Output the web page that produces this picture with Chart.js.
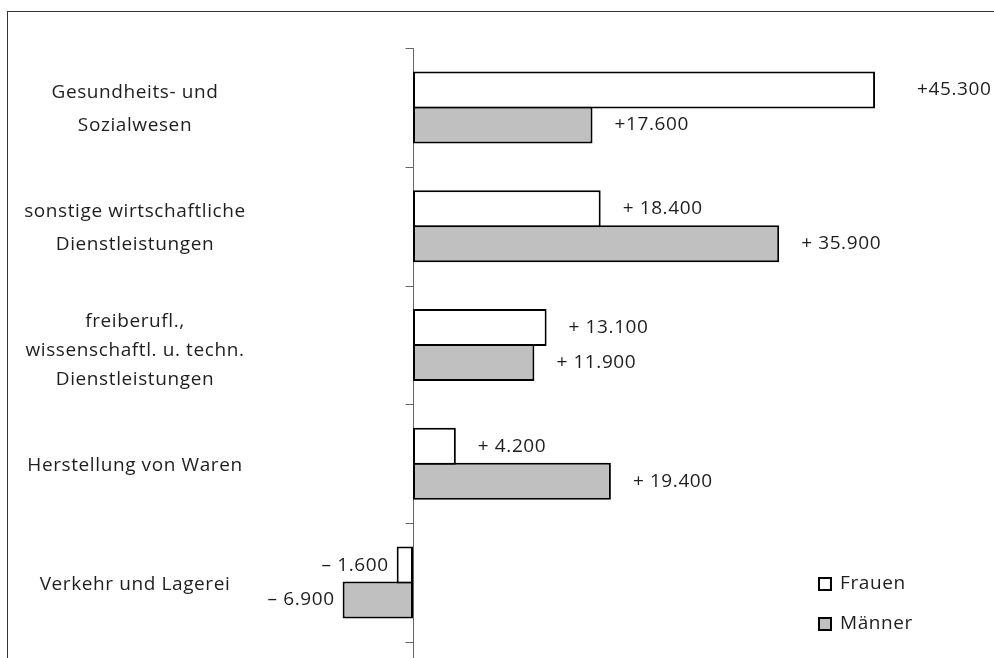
<!DOCTYPE html>
<html>
<head>
<meta charset="utf-8">
<script src="https://cdn.jsdelivr.net/npm/chart.js@4/dist/chart.umd.min.js"></script>
<style>
  html, body { margin: 0; padding: 0; background: #fff; overflow: hidden; }
  #wrap { position: relative; width: 994px; height: 658px; }
  #frame { position: absolute; left: 7px; top: 11px; width: 1100px; height: 800px;
           border: 1px solid #333; box-sizing: border-box; }
  canvas { position: absolute; left: 0; top: 0; }
</style>
</head>
<body>
<div id="wrap">
  <div id="frame"></div>
  <canvas id="c" width="994" height="658"></canvas>
</div>
<script>
// Sectors (multi-line labels as arrays)
const categories = [
  ['Gesundheits- und', 'Sozialwesen'],
  ['sonstige wirtschaftliche', 'Dienstleistungen'],
  ['freiberufl.,', 'wissenschaftl. u. techn.', 'Dienstleistungen'],
  'Herstellung von Waren',
  'Verkehr und Lagerei'
];
const seriesNames = ['Frauen', 'Männer'];
const frauen  = [45300, 18400, 13100, 4200, -1600];
const maenner = [17600, 35900, 11900, 19400, -6900];

// Labels written without a blank after the sign (dataset index -> bar indices)
const compactSign = [[0], [0]];

const FONT = '"Open Sans"';
const FONT_SIZE = 19;
const SPACING = '0.6px';
const TEXT = '#1e1e1e';

function formatValue(v, tight) {
  const sign = v < 0 ? '\u2013' : '+';
  const num = Math.abs(v).toLocaleString('de-DE');
  return sign + (tight ? '' : ' ') + num;
}

const overlay = {
  id: 'overlay',
  beforeDraw(chart) {
    chart.ctx.letterSpacing = SPACING;
  },
  beforeDatasetsDraw(chart) {
    const { ctx, chartArea, scales: { x, y } } = chart;
    const x0 = Math.round(x.getPixelForValue(0)) + 0.5;
    ctx.save();
    // zero line with category boundary ticks
    ctx.strokeStyle = '#666';
    ctx.lineWidth = 1;
    ctx.beginPath();
    ctx.moveTo(x0, chartArea.top);
    ctx.lineTo(x0, chart.height);
    for (let i = 0; i <= categories.length; i++) {
      const py = Math.round(y.getPixelForValue(i - 0.5)) + 0.5;
      ctx.moveTo(x0 - 8, py);
      ctx.lineTo(x0, py);
    }
    ctx.stroke();

    // category labels, centred left of the plot
    ctx.font = FONT_SIZE + 'px ' + FONT;
    ctx.fillStyle = TEXT;
    ctx.textAlign = 'center';
    ctx.textBaseline = 'middle';
    categories.forEach((lab, i) => {
      const lines = Array.isArray(lab) ? lab : [lab];
      const lh = lines.length === 3 ? 29 : 33;
      const cy = y.getPixelForValue(i) + (lines.length === 3 ? 6 : 2);
      lines.forEach((t, k) => {
        ctx.fillText(t, 135, cy + (k - (lines.length - 1) / 2) * lh);
      });
    });
    ctx.restore();
  },
  afterDatasetsDraw(chart) {
    const { ctx } = chart;
    ctx.save();
    ctx.font = FONT_SIZE + 'px ' + FONT;
    ctx.fillStyle = TEXT;
    ctx.textBaseline = 'middle';
    chart.data.datasets.forEach((ds, di) => {
      const meta = chart.getDatasetMeta(di);
      meta.data.forEach((bar, i) => {
        const v = ds.data[i];
        const txt = formatValue(v, compactSign[di].includes(i));
        if (v >= 0) {
          ctx.textAlign = 'left';
          const gap = (di === 0 && i === 0) ? 42 : 22;
          ctx.fillText(txt, bar.x + gap, bar.y);
        } else {
          ctx.textAlign = 'right';
          ctx.fillText(txt, bar.x - 8, bar.y);
        }
      });
    });

    // legend, lower right
    const lx = 818, ly = [584, 624];
    chart.data.datasets.forEach((d, k) => {
      ctx.fillStyle = d.backgroundColor;
      ctx.fillRect(lx, ly[k] - 7, 14, 14);
      ctx.strokeStyle = '#000';
      ctx.lineWidth = 2;
      ctx.strokeRect(lx + 1, ly[k] - 6, 12, 12);
      ctx.fillStyle = TEXT;
      ctx.textAlign = 'left';
      ctx.fillText(d.label, lx + 22, ly[k]);
    });
    ctx.restore();
  }
};

new Chart(document.getElementById('c'), {
  type: 'bar',
  data: {
    labels: categories,
    datasets: [
      {
        label: seriesNames[0],
        data: frauen,
        backgroundColor: '#ffffff',
        borderColor: '#000000',
        borderWidth: 2,
        borderSkipped: false
      },
      {
        label: seriesNames[1],
        data: maenner,
        backgroundColor: '#c0c0c0',
        borderColor: '#000000',
        borderWidth: 2,
        borderSkipped: false
      }
    ]
  },
  options: {
    indexAxis: 'y',
    responsive: false,
    animation: false,
    devicePixelRatio: 1,
    // the two bars of a sector overlap by one border width
    categoryPercentage: 0.589,
    barPercentage: 1.057,
    layout: { padding: { left: 260, right: 20, top: 48, bottom: 16 } },
    scales: {
      x: { display: false, min: -15000, max: 55000 },
      y: { display: false }
    },
    plugins: {
      legend: { display: false },
      tooltip: { enabled: false }
    }
  },
  plugins: [overlay]
});
</script>
</body>
</html>
